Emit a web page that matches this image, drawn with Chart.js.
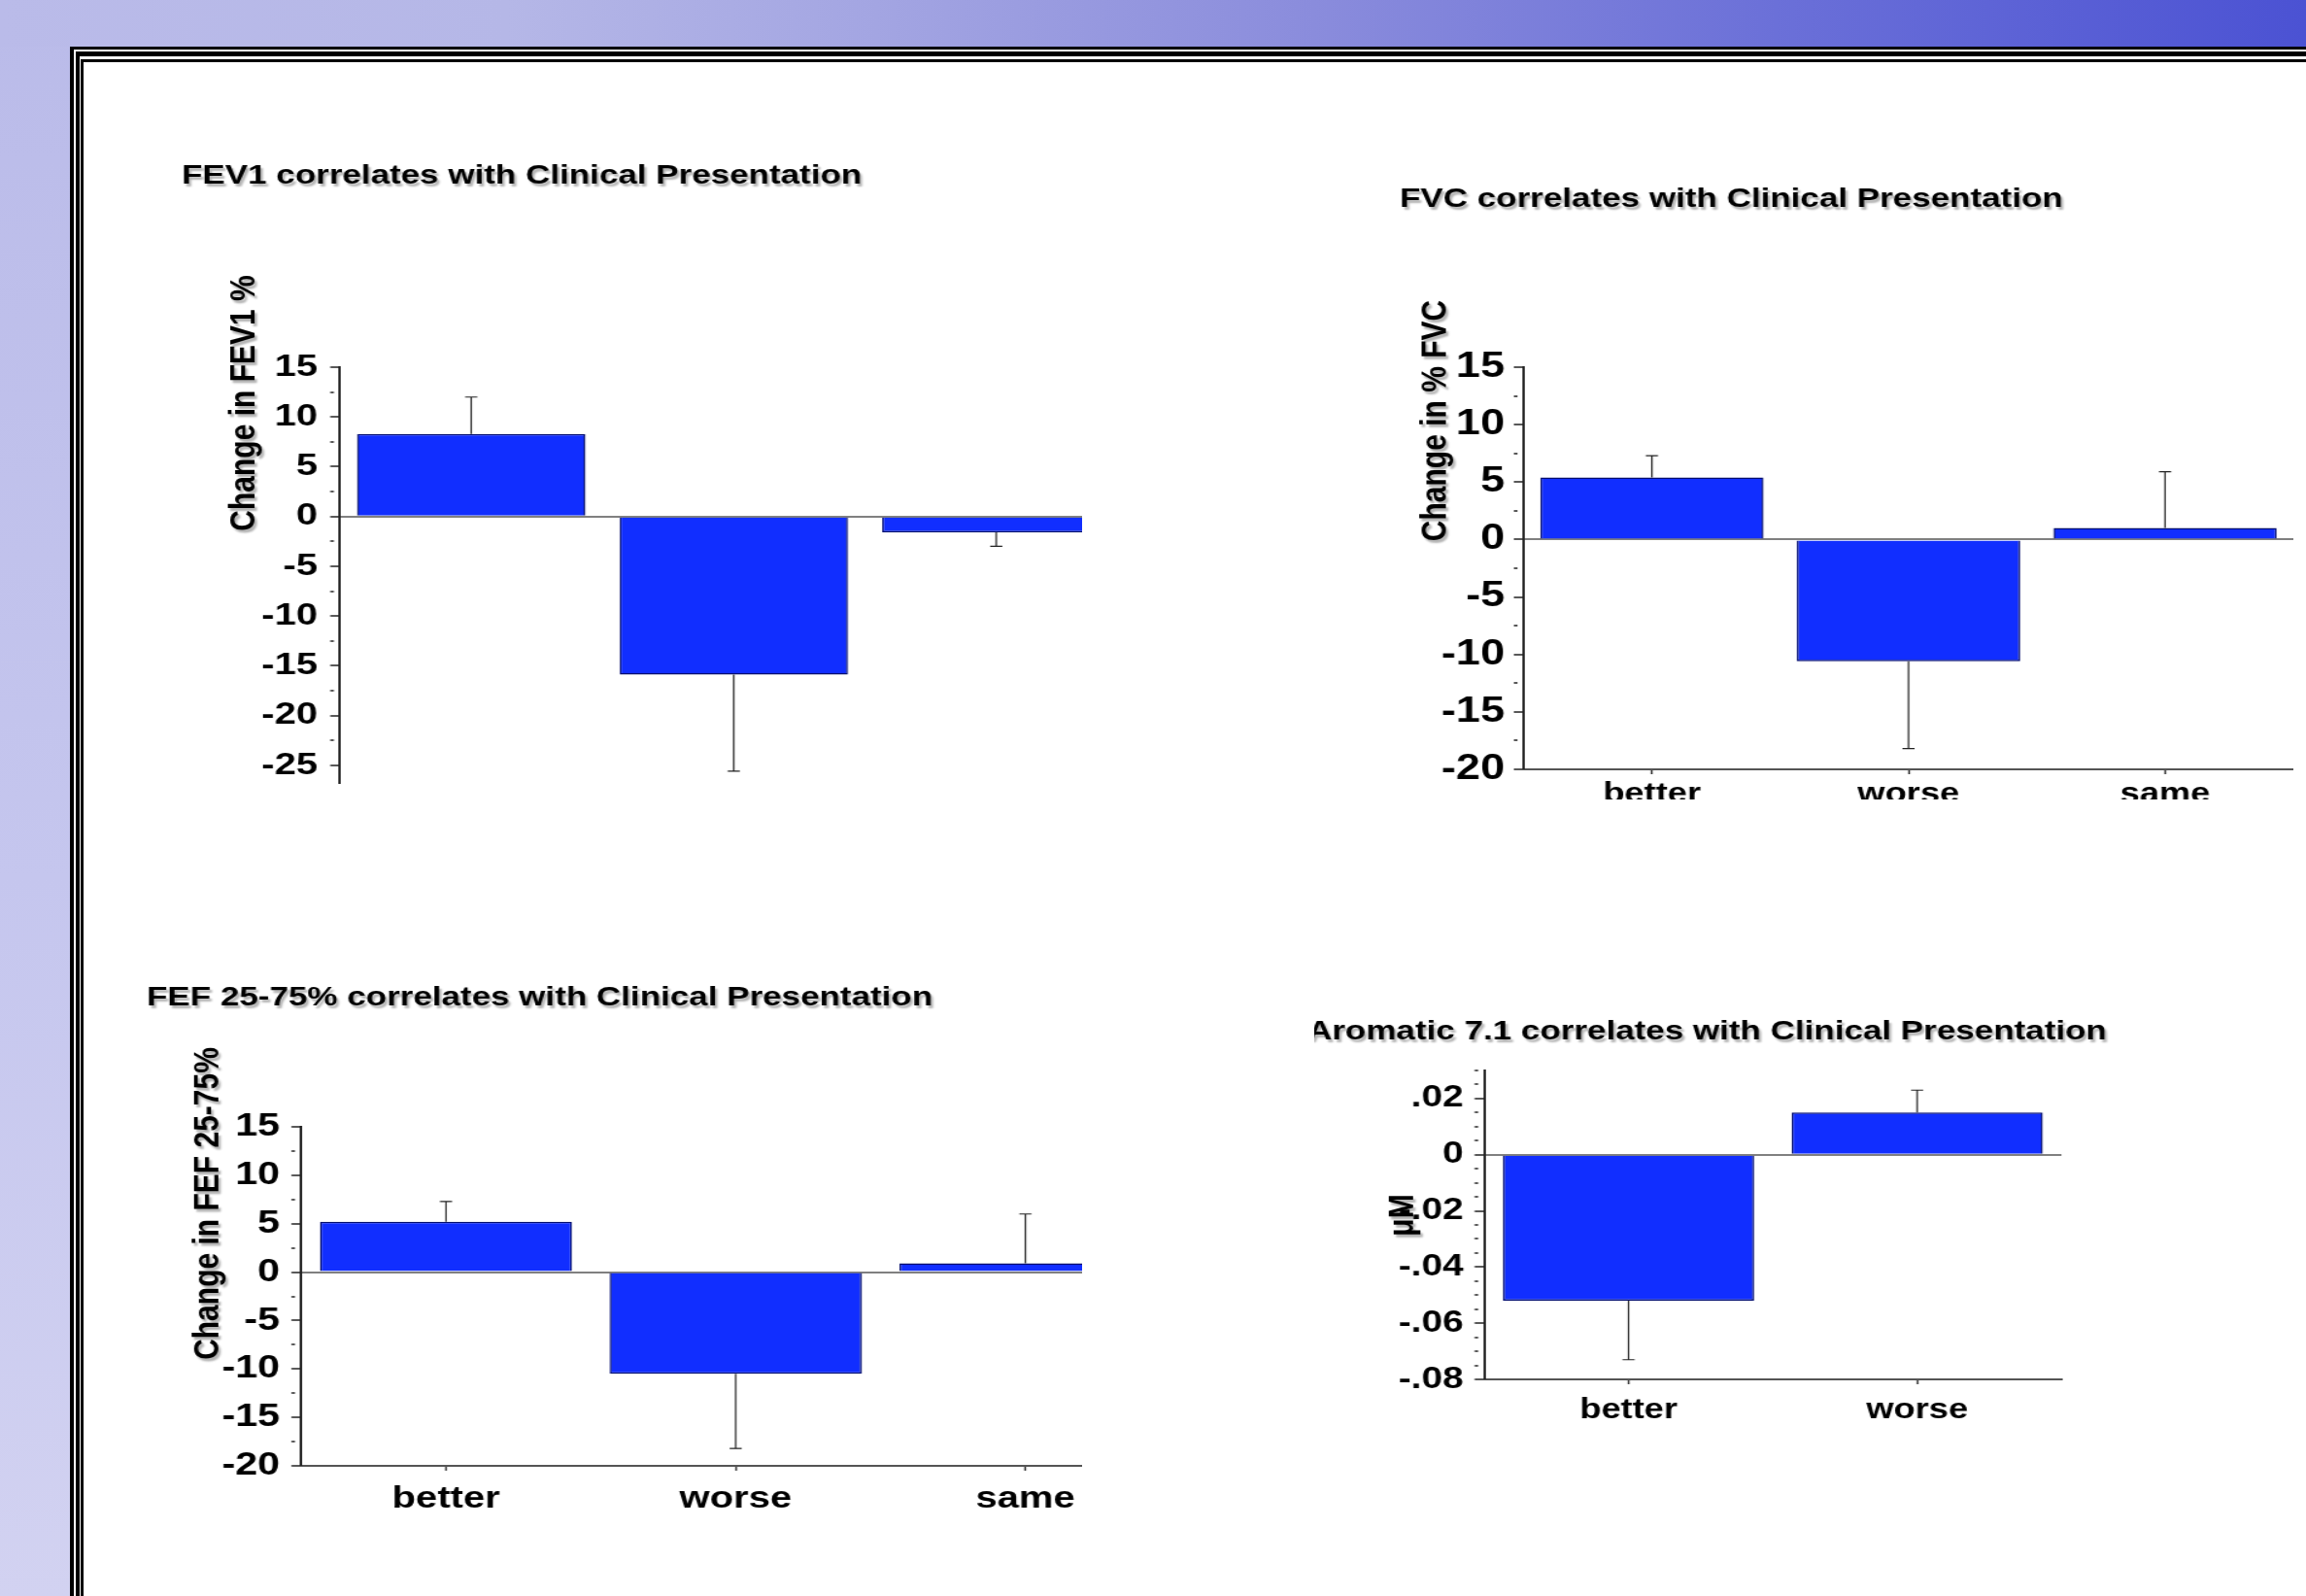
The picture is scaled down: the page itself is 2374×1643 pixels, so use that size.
<!DOCTYPE html>
<html>
<head>
<meta charset="utf-8">
<script src="https://cdn.jsdelivr.net/npm/chart.js@4.4.1/dist/chart.umd.min.js"></script>
<style>
  html, body { margin: 0; padding: 0; }
  body {
    width: 2374px; height: 1643px; position: relative; overflow: hidden;
    background: linear-gradient(to bottom, #babbe9 0%, #c5c6ee 55%, #d2d2f1 100%);
  }
  #band {
    position: absolute; left: 0; top: 0; width: 2374px; height: 48px;
    background: linear-gradient(to right, #babbe9 0%, #b5b7e7 22%, #a3a5e2 38%, #8a8cdc 57%, #6b70d8 77%, #4b52d3 100%);
  }
  .frame {
    position: absolute; width: 3000px; height: 3000px; background: #fff;
    border-style: solid; border-color: #000; border-right: none; border-bottom: none;
  }
  .clip { position: absolute; overflow: hidden; }
  .clip canvas { position: absolute; transform: scaleX(1.25); transform-origin: 0 0; }
</style>
</head>
<body>
<div id="band"></div>
<div class="frame" style="left:72px; top:48px; border-left-width:4px; border-top-width:3px;"></div>
<div class="frame" style="left:78px; top:53px; border-left-width:4px; border-top-width:5px;"></div>
<div class="frame" style="left:83px; top:61px; border-left-width:3px; border-top-width:3px;"></div>

<script>
// ---- values ----
const threeGroups = ['better', 'worse', 'same'];
const twoGroups = ['better', 'worse'];

const fev1Change = [8.3, -15.9, -1.6];
const fev1Error = [3.7, 9.7, 1.4];

const fvcChange = [5.4, -10.6, 1.0];
const fvcError = [1.9, 7.6, 4.9];

const fefChange = [5.2, -10.5, 0.9];
const fefError = [2.1, 7.7, 5.1];

const aromaticLevel = [-0.052, 0.015];
const aromaticError = [0.021, 0.008];

const pctTickValues = [15, 10, 5, 0, -5, -10, -15, -20, -25];
const pctTickLabels = ['15', '10', '5', '0', '-5', '-10', '-15', '-20', '-25'];
const aromaticTickValues = [0.02, 0, -0.02, -0.04, -0.06, -0.08];
const aromaticTickLabels = ['.02', '0', '-.02', '-.04', '-.06', '-.08'];

// ---- styling ----
const FONT = "'Liberation Sans', Arial, Helvetica, sans-serif";
const BAR_FILL = '#112eff';
const BAR_EDGE = '#000c70';
Chart.defaults.font.family = FONT;
Chart.defaults.color = '#000';

function findTick(values, v) {
  return values.findIndex(t => Math.abs(t - v) < 1e-9);
}

// Headings and rotated axis captions, with a soft drop shadow
const captionPlugin = {
  id: 'caption',
  afterDraw(chart, args, o) {
    const ctx = chart.ctx;
    ctx.save();
    ctx.fillStyle = '#000';
    ctx.shadowColor = 'rgba(0,0,0,0.30)';
    ctx.shadowOffsetX = 2;
    ctx.shadowOffsetY = 3;
    ctx.shadowBlur = 2;
    ctx.textBaseline = 'middle';
    ctx.textAlign = 'left';
    ctx.font = `bold ${o.titleSize}px ${FONT}`;
    ctx.fillText(o.title, 0, o.titleY);
    ctx.translate(o.yTitleX, o.yTitleY);
    ctx.rotate(-Math.PI / 2);
    ctx.textAlign = 'center';
    ctx.font = `bold ${o.yTitleSize}px ${FONT}`;
    ctx.fillText(o.yTitle, 0, 0);
    ctx.restore();
  }
};

// One-sided error bars pointing away from zero
const errorBarPlugin = {
  id: 'errorBars',
  afterDatasetsDraw(chart, args, o) {
    const ctx = chart.ctx;
    const yScale = chart.scales.y;
    const values = chart.data.datasets[0].data;
    const meta = chart.getDatasetMeta(0);
    ctx.save();
    ctx.strokeStyle = '#222';
    ctx.lineWidth = 1.2;
    meta.data.forEach((bar, i) => {
      const v = values[i];
      const end = v + Math.sign(v) * o.errors[i];
      const y0 = yScale.getPixelForValue(v);
      const y1 = yScale.getPixelForValue(end);
      ctx.beginPath();
      ctx.moveTo(bar.x, y0);
      ctx.lineTo(bar.x, y1);
      ctx.moveTo(bar.x - o.cap, y1);
      ctx.lineTo(bar.x + o.cap, y1);
      ctx.stroke();
    });
    ctx.restore();
  }
};

const panels = [
  {
    title: 'FEV1 correlates with Clinical Presentation', yTitle: 'Change in FEV1 %',
    labels: threeGroups, values: fev1Change, errors: fev1Error,
    min: -30, max: 15, step: 2.5, tickValues: pctTickValues, tickLabels: pctTickLabels,
    clip: [100, 100, 1014, 707], origin: [187, 148], size: [779, 751], padRight: 0,
    areaTop: 230, yWidth: 130.4, xHeight: 60, yFont: 32, xFont: 29, yPad: 10.4, xPad: 4,
    titleY: 33, yTitlePos: [52, 267]
  },
  {
    title: 'FVC correlates with Clinical Presentation', yTitle: 'Change in % FVC',
    labels: threeGroups, values: fvcChange, errors: fvcError,
    min: -20, max: 15, step: 2.5, tickValues: pctTickValues, tickLabels: pctTickLabels,
    clip: [1380, 150, 994, 673], origin: [1441, 174], size: [736, 688], padRight: 0,
    areaTop: 204, yWidth: 102, xHeight: 70, yFont: 36, xFont: 29, yPad: 7.6, xPad: 4,
    titleY: 31, yTitlePos: [29.6, 259]
  },
  {
    title: 'FEF 25-75% correlates with Clinical Presentation', yTitle: 'Change in FEF 25-75%',
    labels: threeGroups, values: fefChange, errors: fefError,
    min: -20, max: 15, step: 2.5, tickValues: pctTickValues, tickLabels: pctTickLabels,
    clip: [100, 960, 1014, 640], origin: [151, 996], size: [843, 583], padRight: 0,
    areaTop: 164, yWidth: 127.2, xHeight: 70, yFont: 33, xFont: 32, yPad: 9.6, xPad: 10,
    titleY: 31, yTitlePos: [51, 243]
  },
  {
    title: 'Aromatic 7.1 correlates with Clinical Presentation', yTitle: 'μM',
    labels: twoGroups, values: aromaticLevel, errors: aromaticError,
    min: -0.08, max: 0.03, step: 0.005, tickValues: aromaticTickValues, tickLabels: aromaticTickLabels,
    clip: [1353, 1000, 1000, 600], origin: [1346, 1031], size: [690, 449], padRight: 69,
    areaTop: 71, yWidth: 145.6, xHeight: 60, yFont: 31, xFont: 29, yPad: 9.2, xPad: 10,
    titleY: 31, yTitlePos: [79, 220]
  }
];

panels.forEach(p => {
  const clip = document.createElement('div');
  clip.className = 'clip';
  clip.style.left = p.clip[0] + 'px';
  clip.style.top = p.clip[1] + 'px';
  clip.style.width = p.clip[2] + 'px';
  clip.style.height = p.clip[3] + 'px';
  const canvas = document.createElement('canvas');
  canvas.width = p.size[0];
  canvas.height = p.size[1];
  canvas.style.width = p.size[0] + 'px';
  canvas.style.height = p.size[1] + 'px';
  canvas.style.left = (p.origin[0] - p.clip[0]) + 'px';
  canvas.style.top = (p.origin[1] - p.clip[1]) + 'px';
  clip.appendChild(canvas);
  document.body.appendChild(clip);

  const isZero = c => c.tick && Math.abs(c.tick.value) < 1e-9;
  const isMajor = c => c.tick && findTick(p.tickValues, c.tick.value) >= 0;

  new Chart(canvas, {
    type: 'bar',
    data: {
      labels: p.labels,
      datasets: [{
        data: p.values,
        backgroundColor: BAR_FILL,
        borderColor: BAR_EDGE,
        borderWidth: 1.5,
        categoryPercentage: 1,
        barPercentage: 0.87
      }]
    },
    options: {
      responsive: false,
      animation: false,
      devicePixelRatio: 1,
      layout: { padding: { top: p.areaTop, left: 0, right: p.padRight, bottom: 0 } },
      plugins: {
        legend: { display: false },
        tooltip: { enabled: false },
        title: { display: false },
        caption: {
          title: p.title, titleSize: 28, titleY: p.titleY,
          yTitle: p.yTitle, yTitleSize: 30, yTitleX: p.yTitlePos[0], yTitleY: p.yTitlePos[1]
        },
        errorBars: { errors: p.errors, cap: 5 }
      },
      scales: {
        x: {
          offset: true,
          grid: {
            display: true, offset: false, drawOnChartArea: false, drawTicks: true,
            tickLength: 5, tickColor: '#333', tickWidth: 1.5
          },
          border: { display: true, color: '#555', width: 2 },
          ticks: {
            color: '#000', autoSkip: false, maxRotation: 0, padding: p.xPad,
            font: { size: p.xFont, weight: 'bold' }
          },
          afterFit: s => { s.height = p.xHeight; }
        },
        y: {
          min: p.min, max: p.max,
          grid: {
            drawOnChartArea: true, drawTicks: true, tickLength: 8,
            color: c => isZero(c) ? '#808080' : 'rgba(0,0,0,0)',
            lineWidth: c => isZero(c) ? 2 : 0,
            tickColor: '#222', tickWidth: 1.5,
            tickBorderDash: c => isMajor(c) ? [] : [3, 40]
          },
          border: { display: true, color: '#222', width: 2 },
          ticks: {
            stepSize: p.step, maxTicksLimit: 1000, autoSkip: false, padding: p.yPad,
            color: '#000', font: { size: p.yFont, weight: 'bold' },
            callback: v => {
              const i = findTick(p.tickValues, v);
              return i >= 0 ? p.tickLabels[i] : '';
            }
          },
          afterFit: s => { s.width = p.yWidth; }
        }
      }
    },
    plugins: [captionPlugin, errorBarPlugin]
  });
});
</script>
</body>
</html>
